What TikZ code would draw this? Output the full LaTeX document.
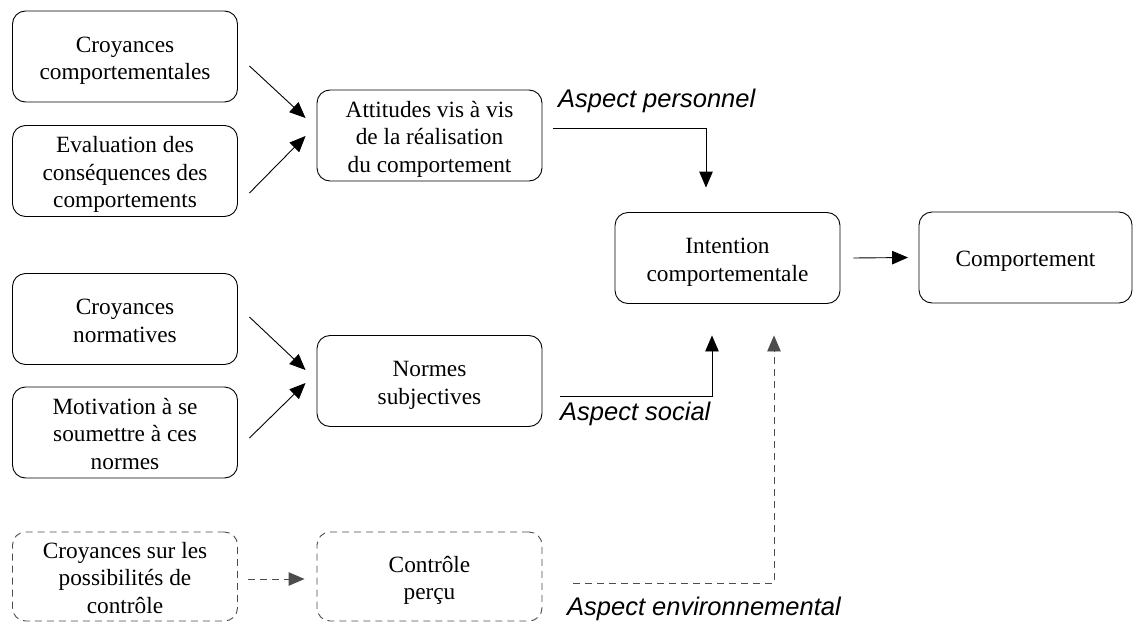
\documentclass[tikz,border=0pt]{standalone}
\usepackage{fontspec}
\setmainfont{Liberation Serif}
\newfontfamily\aspectfont{Liberation Sans}
\usetikzlibrary{arrows.meta}
\newcommand\boxtxt[1]{\rule{0pt}{24pt}#1\rule[-5.5pt]{0pt}{5.5pt}}
\begin{document}
\begin{tikzpicture}[x=1pt,y=-1pt,
  box/.style={draw, rounded corners=13pt, minimum width=225pt, minimum height=91pt,
    align=center, inner sep=0pt, line width=0.9pt,
    font=\fontsize{23.3}{27.5}\selectfont},
  dbox/.style={box, draw=black!70, dash pattern=on 7pt off 5pt, minimum height=89pt},
  arr/.style={-{Triangle[length=16pt,width=13.5pt]}, line width=0.9pt},
  darr/.style={arr, draw=black!70, dash pattern=on 7pt off 5pt},
  lab/.style={font=\aspectfont\itshape\fontsize{25.5}{30}\selectfont, inner sep=0pt, anchor=west}]
\useasboundingbox (0,0) rectangle (1140,626);

\node[box] (cc) at (125,56.5) {\boxtxt{Croyances\\comportementales}};
\node[box] (ev) at (125,171) {\boxtxt{Evaluation des\\conséquences des\\comportements}};
\node[box] (att) at (429.5,135.5) {\boxtxt{Attitudes vis à vis\\de la réalisation\\du comportement}};
\node[box] (cn) at (125,319) {\boxtxt{Croyances\\normatives}};
\node[box] (mot) at (125,432.5) {\boxtxt{Motivation à se\\soumettre à ces\\normes}};
\node[box] (nor) at (429.5,381) {\boxtxt{Normes\\subjectives}};
\node[dbox] (cp) at (125,576.5) {\boxtxt{Croyances sur les\\possibilités de\\contrôle}};
\node[dbox] (ctl) at (429.5,576.5) {\boxtxt{Contrôle\\perçu}};
\node[box] (int) at (727.5,258) {\boxtxt{Intention\\comportementale}};
\node[box, minimum width=213pt] (comp) at (1025.5,257.5) {\boxtxt{Comportement}};

\draw[arr] ([xshift=11.5pt,yshift=-9.5pt]cc.east) -- ([xshift=-11pt,yshift=17.5pt]att.west);
\draw[arr] ([xshift=11.5pt,yshift=-22pt]ev.east) -- ([xshift=-11pt,yshift=-0.5pt]att.west);
\draw[arr] ([xshift=11.5pt,yshift=2pt]cn.east) -- ([xshift=-11pt,yshift=11pt]nor.west);
\draw[arr] ([xshift=11.5pt,yshift=-5.5pt]mot.east) -- ([xshift=-11pt,yshift=-2pt]nor.west);
\draw[darr] ([xshift=10.5pt,yshift=-2.5pt]cp.east) -- ([xshift=-12pt,yshift=-2.5pt]ctl.west);

\draw[arr] ([xshift=11pt,yshift=7.5pt]att.east) -| ([xshift=-21.5pt,yshift=24.5pt]int.north);
\draw[arr] ([xshift=18pt,yshift=-15pt]nor.east) -| ([xshift=-15.5pt,yshift=-31.5pt]int.south);
\draw[darr] ([xshift=31pt,yshift=-6.5pt]ctl.east) -| ([xshift=46.5pt,yshift=-31.5pt]int.south);
\draw[arr] ([xshift=13pt]int.east) -- ([xshift=-10.5pt]comp.west);

\node[lab] (ap) at (558,101) {Aspect personnel};
\node[lab] (as) at (560,414) {Aspect social};
\node[lab] (ae) at (567,609) {Aspect environnemental};
\end{tikzpicture}
\end{document}
